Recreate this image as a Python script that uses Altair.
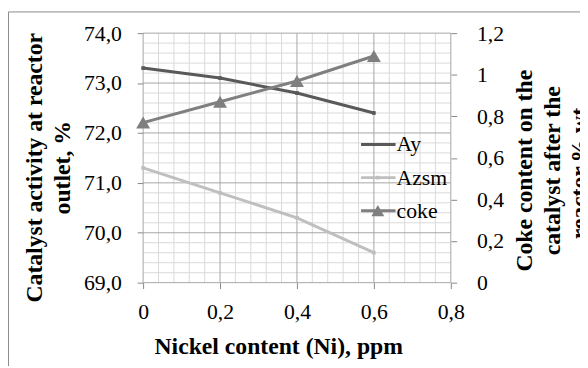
import altair as alt
import pandas as pd

# ---- data ----
nickel = [0, 0.2, 0.4, 0.6]
ay = [73.3, 73.1, 72.8, 72.4]
azsm = [71.3, 70.8, 70.3, 69.6]
coke = [0.77, 0.87, 0.97, 1.09]
series_names = ["Ay", "Azsm", "coke"]
series_colors = ["#595959", "#bfbfbf", "#7f7f7f"]
legend_rank = [0, 1, 2]

x_ticks = [0, 0.2, 0.4, 0.6, 0.8]
left_ticks = [69, 70, 71, 72, 73, 74]
right_ticks = [0, 0.2, 0.4, 0.6, 0.8, 1.0, 1.2]
x_minor = [round(i * 0.04, 2) for i in range(21) if i % 5]
y_minor = [round(69 + i * 0.2, 1) for i in range(26) if i % 5]

left_title = ["Catalyst activity at reactor", "outlet, %"]
right_title = ["Coke content on the", "catalyst after the", "reactor,% wt."]
x_title = "Nickel content (Ni), ppm"

left_df = pd.DataFrame({"Ni": nickel * 2, "value": ay + azsm,
                        "series": ["Ay"] * 4 + ["Azsm"] * 4})
coke_df = pd.DataFrame({"Ni": nickel, "value": coke, "series": ["coke"] * 4})
legend_df = pd.DataFrame({"series": series_names, "rank": legend_rank})

FONT = "Liberation Serif"
W, H = 312, 253
MINOR = "#d9d9d9"
MAJOR = "#a6a6a6"
TICK = "#868686"
TFS = 24
LH = 28

x_scale = alt.Scale(domain=[0, 0.8], nice=False, zero=False)
color = alt.Color("series:N", scale=alt.Scale(domain=series_names, range=series_colors), legend=None)
num_label = "replace(format(datum.value, '~g'), '.', ',')"


def yl(field="value", axis=None):
    return alt.Y(f"{field}:Q", scale=alt.Scale(domain=[69, 74], nice=False, zero=False), axis=axis)


def yr(axis=None):
    return alt.Y("value:Q", scale=alt.Scale(domain=[0, 1.2], nice=False, zero=False), axis=axis)


def xn(field="Ni", axis=None):
    return alt.X(f"{field}:Q", scale=x_scale, axis=axis)


vminor = alt.Chart(pd.DataFrame({"g": x_minor})).mark_rule(color=MINOR, strokeWidth=1).encode(x=xn("g"))
hminor = alt.Chart(pd.DataFrame({"g": y_minor})).mark_rule(color=MINOR, strokeWidth=1).encode(y=yl("g"))
vmajor = alt.Chart(pd.DataFrame({"g": x_ticks})).mark_rule(color=MAJOR, strokeWidth=1).encode(
    x=xn("g", axis=alt.Axis(
        values=x_ticks, orient="bottom", grid=False, domain=False, ticks=True, tickSize=6,
        tickColor=TICK, labelFlush=False, labelOverlap=False, labelExpr=num_label,
        labelFont=FONT, labelFontSize=22, labelColor="#000", labelPadding=13,
        title=x_title, titleFont=FONT, titleFontSize=TFS, titleFontWeight="bold",
        titleColor="#000", titleX=137, titleY=72, titleBaseline="alphabetic",
        titleAlign="center", titleAngle=0)))
hmajor = alt.Chart(pd.DataFrame({"g": left_ticks})).mark_rule(color=MAJOR, strokeWidth=1).encode(
    y=yl("g", axis=alt.Axis(
        values=left_ticks, orient="left", grid=False, domain=False, ticks=True, tickSize=6,
        tickColor=TICK, labelOverlap=False,
        labelExpr="replace(format(datum.value, '.1f'), '.', ',')",
        labelFont=FONT, labelFontSize=22, labelColor="#000", labelPadding=16,
        title=left_title, titleFont=FONT, titleFontSize=TFS, titleFontWeight="bold",
        titleColor="#000", titleAngle=270, titleX=-110, titleY=136,
        titleBaseline="middle", titleAlign="center", titleLineHeight=LH)))

left_lines = alt.Chart(left_df).mark_line(strokeWidth=3).encode(
    x=xn(), y=yl(), color=color, detail="series:N")
left_pts = alt.Chart(left_df).mark_point(filled=True, shape="square", size=14, opacity=1).encode(
    x=xn(), y=yl(), color=color)

right_axis = alt.Axis(
    values=right_ticks, orient="right", grid=False, domain=False, ticks=True, tickSize=6,
    tickColor=TICK, labelOverlap=False, labelExpr=num_label,
    labelFont=FONT, labelFontSize=22, labelColor="#000", labelPadding=20,
    title=right_title, titleFont=FONT, titleFontSize=TFS, titleFontWeight="bold",
    titleColor="#000", titleAngle=270, titleX=75, titleY=139,
    titleBaseline="middle", titleAlign="center", titleLineHeight=LH)
coke_line = alt.Chart(coke_df).mark_line(strokeWidth=3).encode(x=xn(), y=yr(right_axis), color=color)
coke_pts = alt.Chart(coke_df).mark_point(filled=True, shape="triangle-up", size=200, opacity=1).encode(
    x=xn(), y=yr(), color=color)

# ---- legend drawn inside the plot ----
leg_y = alt.Y("rank:Q", scale=alt.Scale(domain=[0, 2], range=[113, 180], nice=False, zero=False), axis=None)
leg_lines = alt.Chart(legend_df).mark_rule(strokeWidth=3).encode(
    x=alt.value(221), x2=alt.value(256), y=leg_y, color=color)
leg_sq = alt.Chart(legend_df[legend_df.series == "Azsm"]).mark_point(
    filled=True, shape="square", size=14, opacity=1).encode(x=alt.value(238), y=leg_y, color=color)
leg_tri = alt.Chart(legend_df[legend_df.series == "coke"]).mark_point(
    filled=True, shape="triangle-up", size=170, opacity=1).encode(x=alt.value(238), y=leg_y, color=color)
leg_text = alt.Chart(legend_df).mark_text(
    align="left", baseline="middle", font=FONT, fontSize=22, color="#000").encode(
    x=alt.value(257), y=leg_y, text="series:N")

frame = alt.Chart(pd.DataFrame({"a": [0]})).mark_rect(
    fillOpacity=0, stroke="#898989", strokeWidth=1).encode(
    x=alt.value(-136.5), x2=alt.value(600), y=alt.value(-21.5), y2=alt.value(420))

chart = alt.layer(
    vminor, hminor, vmajor, hmajor, left_lines, left_pts, coke_line, coke_pts,
    leg_lines, leg_sq, leg_tri, leg_text, frame
).resolve_scale(y="independent").resolve_axis(x="independent", y="independent").properties(
    width=W, height=H,
    autosize=alt.AutoSizeParams(type="none"),
    padding={"left": 137, "top": 23, "right": 131, "bottom": 82},
).configure_view(stroke=None).configure_axis(titleLineHeight=LH)

chart.save("out.html", embed_options={"renderer": "svg", "actions": False})
